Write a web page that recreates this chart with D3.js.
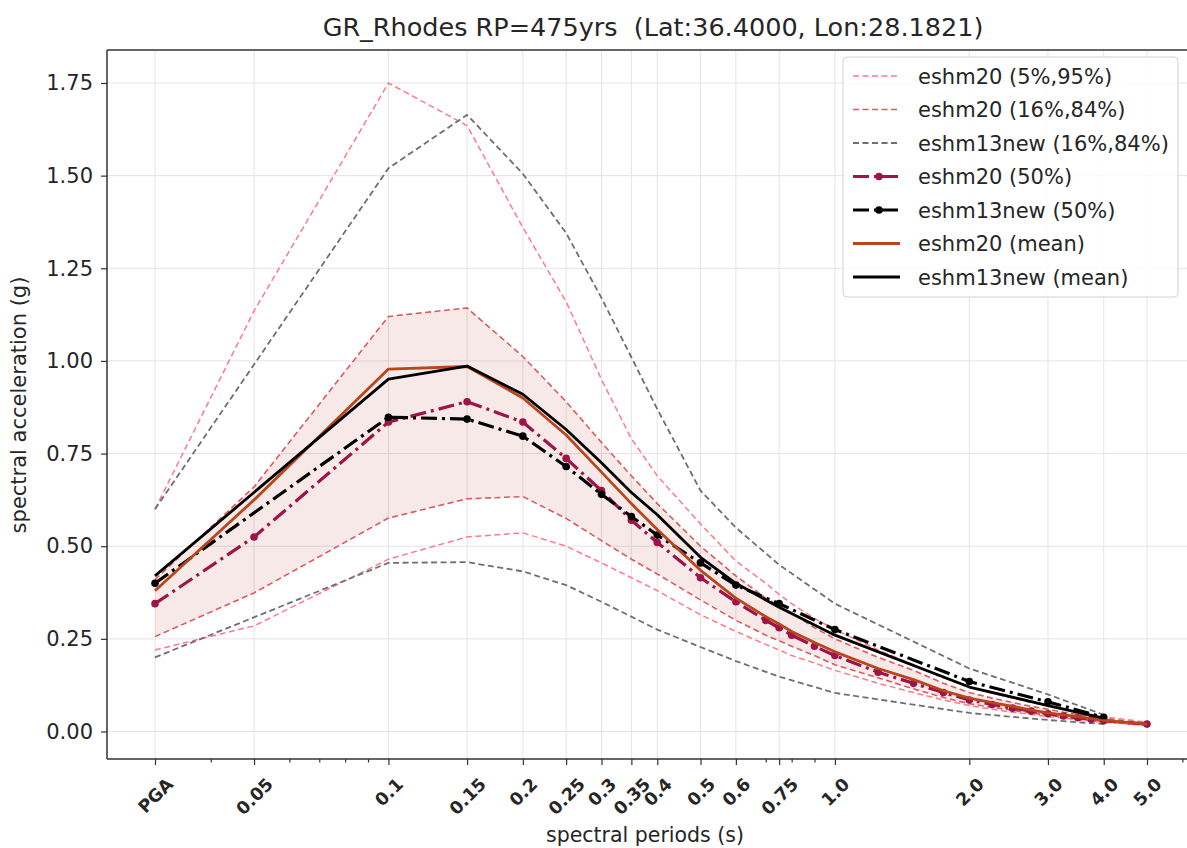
<!DOCTYPE html>
<html>
<head>
<meta charset="utf-8">
<script src="https://d3js.org/d3.v7.min.js"></script>
<style>
  body { margin: 0; background: #fff; }
  text { font-family: 'DejaVu Sans', sans-serif; fill: #262626; }
  .grid line { stroke: #e4e4e4; stroke-width: 1; }
  .axis path.domain { display: none; }
  .axis line { stroke: #333; stroke-width: 1.2; }
</style>
</head>
<body>
<div id="chart"></div>
<script>
// spectral periods (PGA plotted at 0.03 s)
var periods20 = [0.03, 0.05, 0.1, 0.15, 0.2, 0.25, 0.3, 0.35, 0.4, 0.5, 0.6, 0.7, 0.75, 0.8, 0.9, 1.0,
                 1.25, 1.5, 1.75, 2.0, 2.25, 2.5, 2.75, 3.0, 3.25, 3.5, 3.75, 4.0, 5.0];
var periods13 = [0.03, 0.1, 0.15, 0.2, 0.25, 0.3, 0.35, 0.4, 0.5, 0.6, 0.75, 1.0, 2.0, 3.0, 4.0];

// eshm20
var eshm20_p05  = [0.22, 0.285, 0.465, 0.525, 0.536, 0.50, 0.455, 0.415, 0.38, 0.315, 0.27, 0.235, 0.22, 0.205, 0.185, 0.165,
                   0.13, 0.105, 0.085, 0.07, 0.06, 0.052, 0.046, 0.04, 0.036, 0.032, 0.028, 0.025, 0.016];
var eshm20_p95  = [0.60, 1.135, 1.75, 1.635, 1.36, 1.16, 0.95, 0.79, 0.69, 0.56, 0.46, 0.40, 0.37, 0.345, 0.305, 0.275,
                   0.22, 0.18, 0.145, 0.12, 0.103, 0.09, 0.078, 0.07, 0.06, 0.053, 0.046, 0.04, 0.025];
var eshm20_p16  = [0.256, 0.374, 0.576, 0.628, 0.634, 0.575, 0.515, 0.465, 0.425, 0.355, 0.30, 0.26, 0.245, 0.23, 0.205, 0.18,
                   0.145, 0.115, 0.092, 0.075, 0.065, 0.057, 0.05, 0.044, 0.039, 0.034, 0.03, 0.027, 0.018];
var eshm20_p84  = [0.41, 0.66, 1.12, 1.143, 1.012, 0.89, 0.78, 0.69, 0.615, 0.50, 0.42, 0.36, 0.34, 0.32, 0.28, 0.25,
                   0.20, 0.165, 0.13, 0.105, 0.09, 0.078, 0.068, 0.06, 0.052, 0.046, 0.04, 0.035, 0.022];
var eshm20_p50  = [0.345, 0.525, 0.835, 0.89, 0.835, 0.737, 0.65, 0.57, 0.51, 0.415, 0.35, 0.30, 0.28, 0.26, 0.23, 0.205,
                   0.16, 0.13, 0.105, 0.085, 0.073, 0.063, 0.055, 0.048, 0.042, 0.037, 0.033, 0.029, 0.02];
var eshm20_mean = [0.38, 0.625, 0.978, 0.985, 0.90, 0.80, 0.70, 0.615, 0.545, 0.435, 0.36, 0.31, 0.29, 0.27, 0.24, 0.215,
                   0.17, 0.14, 0.11, 0.09, 0.078, 0.068, 0.058, 0.05, 0.045, 0.04, 0.035, 0.03, 0.02];

// eshm13new
var eshm13_p16  = [0.20, 0.455, 0.457, 0.432, 0.395, 0.35, 0.31, 0.275, 0.228, 0.19, 0.148, 0.104, 0.05, 0.031, 0.02];
var eshm13_p84  = [0.60, 1.52, 1.664, 1.505, 1.345, 1.17, 1.01, 0.87, 0.65, 0.55, 0.45, 0.345, 0.17, 0.10, 0.045];
var eshm13_p50  = [0.40, 0.848, 0.843, 0.797, 0.715, 0.64, 0.58, 0.53, 0.455, 0.395, 0.345, 0.275, 0.135, 0.08, 0.038];
var eshm13_mean = [0.42, 0.951, 0.986, 0.91, 0.815, 0.725, 0.645, 0.585, 0.47, 0.40, 0.335, 0.26, 0.12, 0.07, 0.036];

var tickPeriods = [0.03, 0.05, 0.1, 0.15, 0.2, 0.25, 0.3, 0.35, 0.4, 0.5, 0.6, 0.75, 1.0, 2.0, 3.0, 4.0, 5.0];
var tickLabels = ["PGA", "0.05", "0.1", "0.15", "0.2", "0.25", "0.3", "0.35", "0.4", "0.5", "0.6", "0.75", "1.0", "2.0", "3.0", "4.0", "5.0"];
var minorPeriods = [0.04, 0.06, 0.07, 0.08, 0.09, 0.7, 0.8, 0.9, 6.0];
var yTicks = [0, 0.25, 0.5, 0.75, 1.0, 1.25, 1.5, 1.75];

var W = 1187, H = 848;
var mLeft = 107, mRight = 1199, mTop = 50, mBottom = 759;

var svg = d3.select("#chart").append("svg")
  .attr("width", W)
  .attr("height", H);

var x = d3.scaleLog().domain([0.03, 5]).range([155, 1147]);
var y = d3.scaleLinear().domain([0, 1.75]).range([731.5, 83]);

svg.append("clipPath").attr("id", "clip")
  .append("rect")
  .attr("x", mLeft).attr("y", mTop)
  .attr("width", mRight - mLeft).attr("height", mBottom - mTop);

// grid
var grid = svg.append("g").attr("class", "grid");
grid.selectAll(".vx").data(tickPeriods).enter().append("line")
  .attr("x1", d => x(d)).attr("x2", d => x(d))
  .attr("y1", mTop).attr("y2", mBottom);
grid.selectAll(".hy").data(yTicks).enter().append("line")
  .attr("x1", mLeft).attr("x2", mRight)
  .attr("y1", d => y(d)).attr("y2", d => y(d));

var plot = svg.append("g").attr("clip-path", "url(#clip)");

function zip(ps, vs) {
  return ps.map((p, i) => ({p: p, v: vs[i]}));
}

// shaded band between eshm20 16% and 84%
var band = periods20.map((p, i) => ({p: p, lo: eshm20_p16[i], hi: eshm20_p84[i]}));
plot.append("path")
  .datum(band)
  .attr("fill", "#c84a4a")
  .attr("fill-opacity", 0.12)
  .attr("d", d3.area().x(d => x(d.p)).y0(d => y(d.lo)).y1(d => y(d.hi)));

var line = d3.line().x(d => x(d.p)).y(d => y(d.v));

var series = [
  {name: "eshm20 (5%,95%)", color: "#ff7b86", width: 1.5, dash: "6,3.5", data: [eshm20_p05, eshm20_p95], ps: periods20},
  {name: "eshm20 (16%,84%)", color: "#dc5a60", width: 1.6, dash: "6,3.5", data: [eshm20_p16, eshm20_p84], ps: periods20},
  {name: "eshm13new (16%,84%)", color: "#6f6f6f", width: 1.8, dash: "6,3.5", data: [eshm13_p16, eshm13_p84], ps: periods13},
  {name: "eshm20 (50%)", color: "#9e1448", width: 3.2, dash: "16,5,3,5", marker: true, data: [eshm20_p50], ps: periods20},
  {name: "eshm13new (50%)", color: "#000000", width: 3.2, dash: "16,5,3,5", marker: true, data: [eshm13_p50], ps: periods13},
  {name: "eshm20 (mean)", color: "#b8461c", width: 2.8, dash: null, data: [eshm20_mean], ps: periods20},
  {name: "eshm13new (mean)", color: "#000000", width: 2.8, dash: null, data: [eshm13_mean], ps: periods13}
];

series.forEach(function(s) {
  s.data.forEach(function(vals) {
    var pts = zip(s.ps, vals);
    plot.append("path")
      .datum(pts)
      .attr("fill", "none")
      .attr("stroke", s.color)
      .attr("stroke-width", s.width)
      .attr("stroke-dasharray", s.dash)
      .attr("stroke-linejoin", "round")
      .attr("d", line);
    if (s.marker) {
      plot.append("g").selectAll("circle")
        .data(pts)
        .enter()
        .append("circle")
          .attr("cx", d => x(d.p))
          .attr("cy", d => y(d.v))
          .attr("r", 3.8)
          .attr("fill", s.color);
    }
  });
});

// spines
svg.append("line").attr("x1", mLeft).attr("x2", mRight).attr("y1", mTop).attr("y2", mTop)
  .attr("stroke", "#333").attr("stroke-width", 1.5);
svg.append("line").attr("x1", mLeft).attr("x2", mRight).attr("y1", mBottom).attr("y2", mBottom)
  .attr("stroke", "#333").attr("stroke-width", 1.5);
svg.append("line").attr("x1", mLeft).attr("x2", mLeft).attr("y1", mTop).attr("y2", mBottom)
  .attr("stroke", "#333").attr("stroke-width", 1.5);

// x axis
var xAxis = svg.append("g")
  .attr("class", "axis")
  .attr("transform", "translate(0," + mBottom + ")")
  .call(d3.axisBottom(x).tickValues(tickPeriods).tickFormat((d, i) => tickLabels[i]).tickSize(6).tickSizeOuter(0));

svg.append("g")
  .attr("class", "axis")
  .attr("transform", "translate(0," + mBottom + ")")
  .call(d3.axisBottom(x).tickValues(minorPeriods).tickFormat("").tickSize(3.5).tickSizeOuter(0));

xAxis.selectAll("text")
  .attr("font-size", 17.5)
  .attr("font-weight", "bold")
  .attr("fill", "#262626")
  .attr("text-anchor", "middle")
  .attr("dy", "0.35em")
  .attr("y", 0)
  .each(function() {
    var w = this.getComputedTextLength();
    var h = (w + 17) / Math.SQRT2;
    d3.select(this).attr("transform", "translate(0," + (16 + h / 2) + ") rotate(-45)");
  });

// y axis
var yAxis = svg.append("g")
  .attr("class", "axis")
  .attr("transform", "translate(" + mLeft + ",0)")
  .call(d3.axisLeft(y).tickValues(yTicks).tickFormat(d3.format(".2f")).tickSize(6).tickSizeOuter(0));
yAxis.selectAll("text")
  .attr("font-size", 21)
  .attr("fill", "#262626")
  .attr("x", -14);

// titles
svg.append("text")
  .attr("x", 653).attr("y", 36)
  .attr("text-anchor", "middle")
  .attr("font-size", 25.5)
  .attr("xml:space", "preserve")
  .text("GR_Rhodes RP=475yrs  (Lat:36.4000, Lon:28.1821)");

svg.append("text")
  .attr("x", 645).attr("y", 842)
  .attr("text-anchor", "middle")
  .attr("font-size", 20.5)
  .text("spectral periods (s)");

svg.append("text")
  .attr("transform", "translate(26,405) rotate(-90)")
  .attr("text-anchor", "middle")
  .attr("font-size", 21)
  .text("spectral acceleration (g)");

// legend
var lg = svg.append("g").attr("transform", "translate(843,57)");
lg.append("rect")
  .attr("width", 335).attr("height", 240)
  .attr("rx", 4)
  .attr("fill", "#fff").attr("fill-opacity", 0.85)
  .attr("stroke", "#d0d0d0");

var rows = lg.selectAll(".row").data(series).enter().append("g")
  .attr("transform", (d, i) => "translate(0," + (19 + i * 33.5) + ")");
rows.append("line")
  .attr("x1", 10).attr("x2", 57)
  .attr("stroke", d => d.color)
  .attr("stroke-width", d => d.width)
  .attr("stroke-dasharray", d => d.dash);
rows.filter(d => d.marker).append("circle")
  .attr("cx", 36).attr("r", 3.8)
  .attr("fill", d => d.color);
rows.append("text")
  .attr("x", 75).attr("dy", "0.36em")
  .attr("font-size", 21)
  .text(d => d.name);
</script>
</body>
</html>
